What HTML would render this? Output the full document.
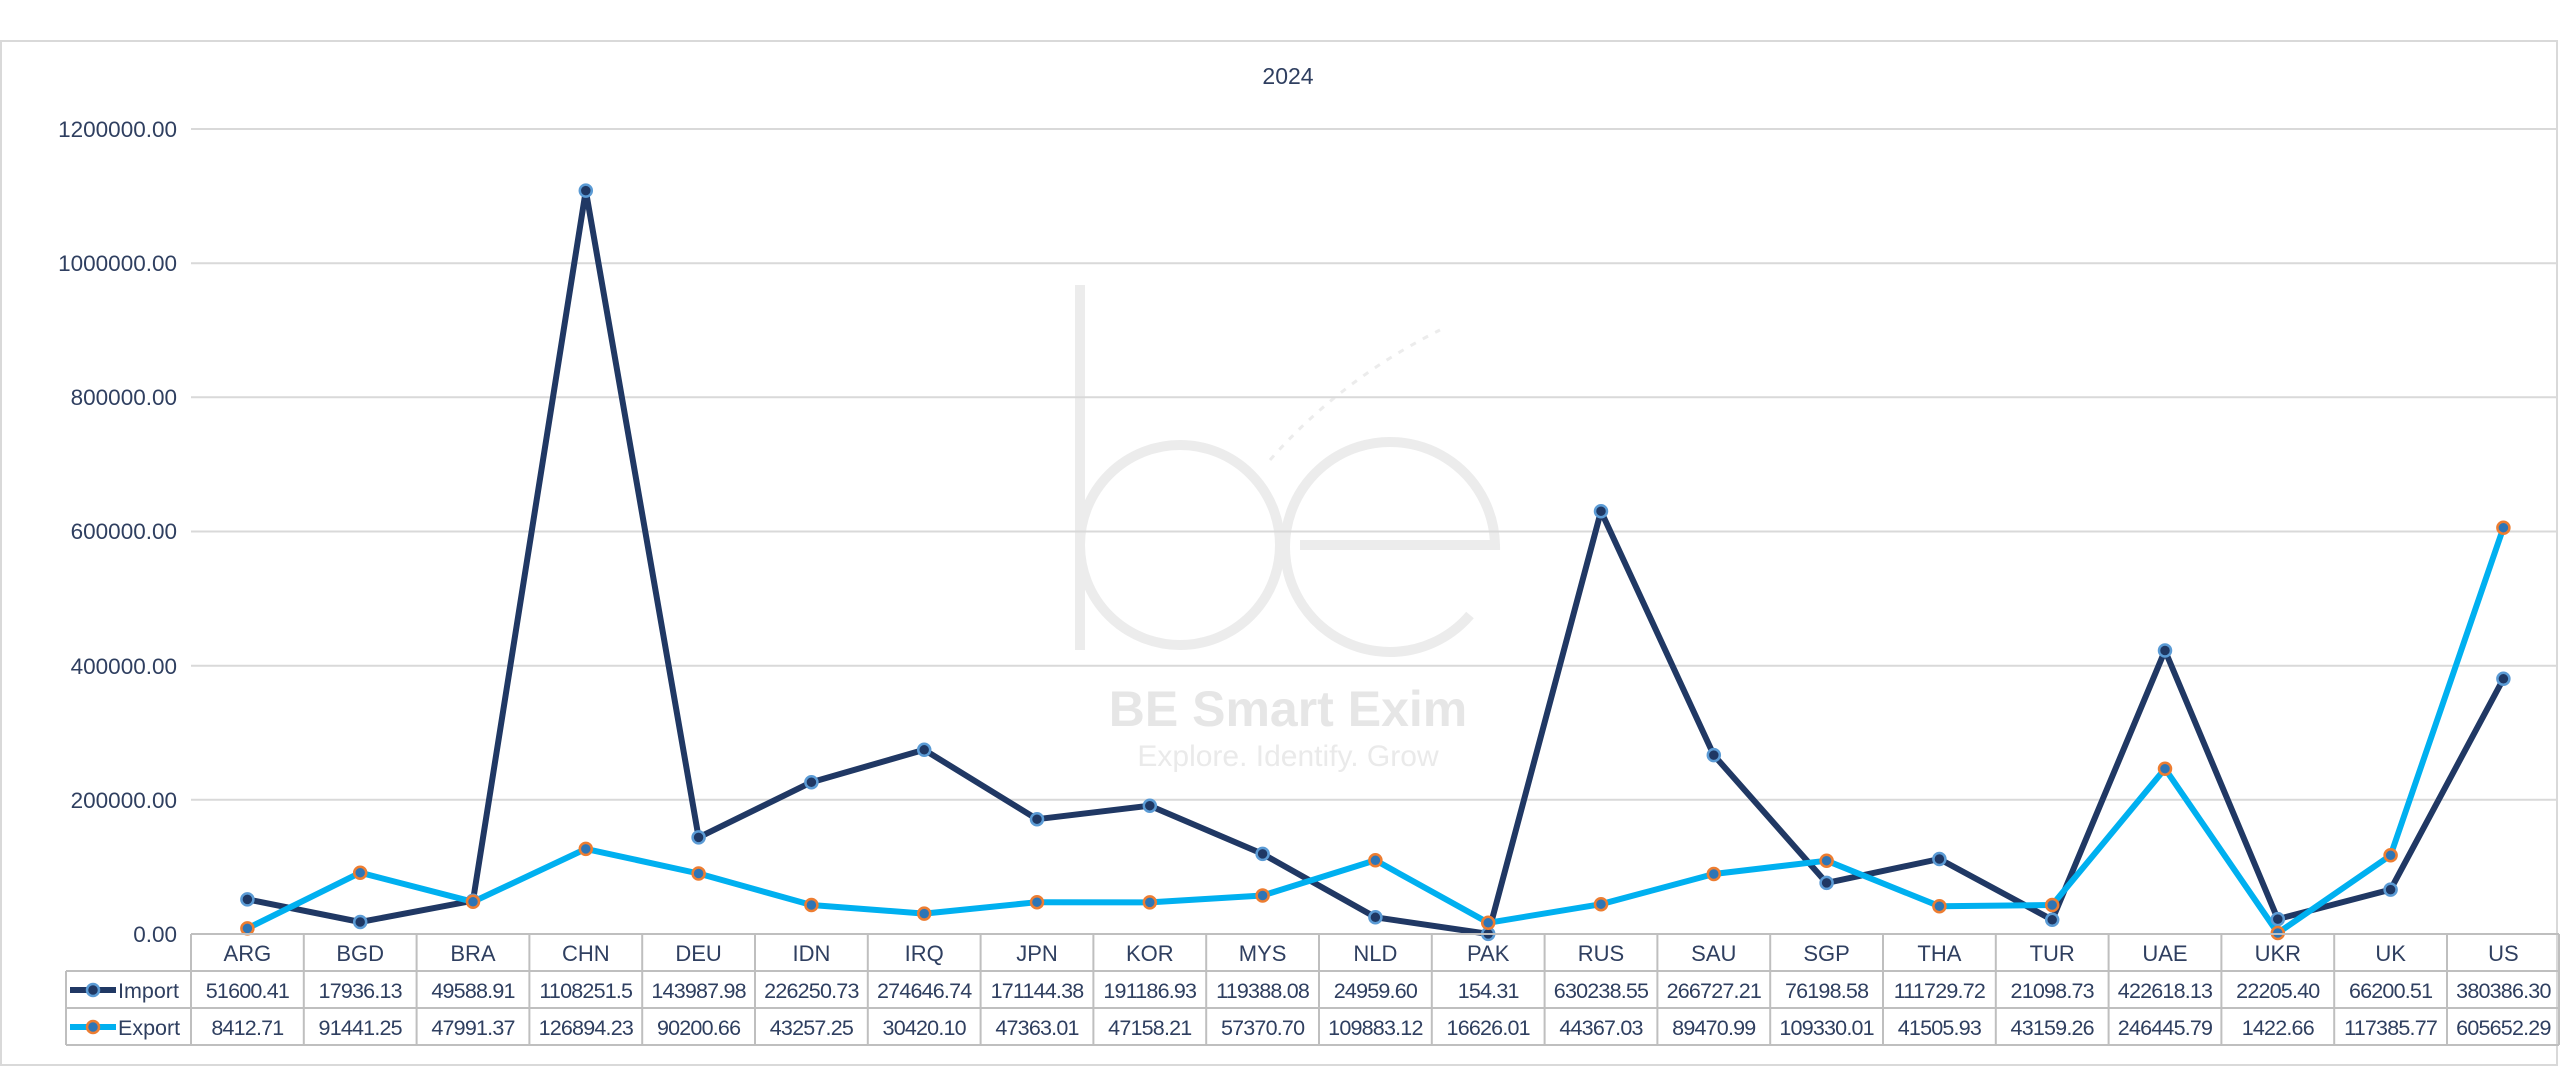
<!DOCTYPE html>
<html><head><meta charset="utf-8"><style>
html,body{margin:0;padding:0;background:#fff;width:2560px;height:1082px;overflow:hidden}
svg{display:block}
text{font-family:"Liberation Sans",sans-serif;fill:#2f3f60}
</style></head><body>
<svg width="2560" height="1082" viewBox="0 0 2560 1082" xmlns="http://www.w3.org/2000/svg">
<rect x="1" y="41" width="2556" height="1024" fill="#fff" stroke="#d9d9d9" stroke-width="2"/>
<!-- watermark -->
<g fill="none" stroke="#ececec" stroke-width="10">
<line x1="1080" y1="285" x2="1080" y2="650"/>
<circle cx="1180" cy="545" r="100"/>
<path d="M1300 545 H1495 A105 105 0 1 0 1470 615"/>
<path d="M1270 460 Q1340 380 1440 330" stroke-dasharray="6 8" stroke-width="3"/>
</g>
<text x="1288" y="726" text-anchor="middle" font-size="50" font-weight="bold" style="fill:#e6e6e6">BE Smart Exim</text>
<text x="1288" y="766" text-anchor="middle" font-size="30" style="fill:#eaeaea">Explore. Identify. Grow</text>
<!-- title -->
<text x="1288" y="84" text-anchor="middle" font-size="23">2024</text>
<!-- grid -->
<g stroke="#d9d9d9" stroke-width="2">
<line x1="191" y1="129" x2="2557" y2="129"/>
<line x1="191" y1="263.2" x2="2557" y2="263.2"/>
<line x1="191" y1="397.3" x2="2557" y2="397.3"/>
<line x1="191" y1="531.5" x2="2557" y2="531.5"/>
<line x1="191" y1="665.7" x2="2557" y2="665.7"/>
<line x1="191" y1="799.8" x2="2557" y2="799.8"/>
</g>
<g font-size="22.5" text-anchor="end">
<text x="177" y="137">1200000.00</text>
<text x="177" y="271">1000000.00</text>
<text x="177" y="405">800000.00</text>
<text x="177" y="539">600000.00</text>
<text x="177" y="674">400000.00</text>
<text x="177" y="808">200000.00</text>
<text x="177" y="942">0.00</text>
</g>
<!-- series -->
<polyline fill="none" stroke="#203864" stroke-width="6" stroke-linejoin="round" points="247.4,899.4 360.2,922 473,900.7 585.8,190.6 698.6,837.4 811.4,782.2 924.2,749.8 1037,819.2 1149.8,805.7 1262.6,853.9 1375.4,917.3 1488.2,933.9 1601,511.2 1713.8,755.1 1826.6,882.9 1939.4,859 2052.2,919.8 2165,650.5 2277.8,919.1 2390.6,889.6 2503.4,678.8"/>
<polyline fill="none" stroke="#00b0f0" stroke-width="6" stroke-linejoin="round" points="247.4,928.4 360.2,872.7 473,901.8 585.8,848.9 698.6,873.5 811.4,905 924.2,913.6 1037,902.2 1149.8,902.4 1262.6,895.5 1375.4,860.3 1488.2,922.8 1601,904.2 1713.8,874 1826.6,860.7 1939.4,906.2 2052.2,905 2165,768.7 2277.8,933 2390.6,855.3 2503.4,527.7"/>
<g fill="#1f3864" stroke="#5b9bd5" stroke-width="2.5">
<circle cx="247.4" cy="899.4" r="6"/><circle cx="360.2" cy="922" r="6"/><circle cx="473" cy="900.7" r="6"/><circle cx="585.8" cy="190.6" r="6"/><circle cx="698.6" cy="837.4" r="6"/><circle cx="811.4" cy="782.2" r="6"/><circle cx="924.2" cy="749.8" r="6"/><circle cx="1037" cy="819.2" r="6"/><circle cx="1149.8" cy="805.7" r="6"/><circle cx="1262.6" cy="853.9" r="6"/><circle cx="1375.4" cy="917.3" r="6"/><circle cx="1488.2" cy="933.9" r="6"/><circle cx="1601" cy="511.2" r="6"/><circle cx="1713.8" cy="755.1" r="6"/><circle cx="1826.6" cy="882.9" r="6"/><circle cx="1939.4" cy="859" r="6"/><circle cx="2052.2" cy="919.8" r="6"/><circle cx="2165" cy="650.5" r="6"/><circle cx="2277.8" cy="919.1" r="6"/><circle cx="2390.6" cy="889.6" r="6"/><circle cx="2503.4" cy="678.8" r="6"/>
</g>
<g fill="#2e75b6" stroke="#ed7d31" stroke-width="2.5">
<circle cx="247.4" cy="928.4" r="6"/><circle cx="360.2" cy="872.7" r="6"/><circle cx="473" cy="901.8" r="6"/><circle cx="585.8" cy="848.9" r="6"/><circle cx="698.6" cy="873.5" r="6"/><circle cx="811.4" cy="905" r="6"/><circle cx="924.2" cy="913.6" r="6"/><circle cx="1037" cy="902.2" r="6"/><circle cx="1149.8" cy="902.4" r="6"/><circle cx="1262.6" cy="895.5" r="6"/><circle cx="1375.4" cy="860.3" r="6"/><circle cx="1488.2" cy="922.8" r="6"/><circle cx="1601" cy="904.2" r="6"/><circle cx="1713.8" cy="874" r="6"/><circle cx="1826.6" cy="860.7" r="6"/><circle cx="1939.4" cy="906.2" r="6"/><circle cx="2052.2" cy="905" r="6"/><circle cx="2165" cy="768.7" r="6"/><circle cx="2277.8" cy="933" r="6"/><circle cx="2390.6" cy="855.3" r="6"/><circle cx="2503.4" cy="527.7" r="6"/>
</g>
<!-- table grid -->
<g stroke="#bfbfbf" stroke-width="2">
<line x1="191" y1="934" x2="2559" y2="934"/>
<line x1="66" y1="971" x2="2559" y2="971"/>
<line x1="66" y1="1008" x2="2559" y2="1008"/>
<line x1="66" y1="1045" x2="2559" y2="1045"/>
<line x1="66" y1="971" x2="66" y2="1045"/>
<line x1="191" y1="934" x2="191" y2="1045"/><line x1="303.8" y1="934" x2="303.8" y2="1045"/><line x1="416.6" y1="934" x2="416.6" y2="1045"/><line x1="529.4" y1="934" x2="529.4" y2="1045"/><line x1="642.2" y1="934" x2="642.2" y2="1045"/><line x1="755" y1="934" x2="755" y2="1045"/><line x1="867.8" y1="934" x2="867.8" y2="1045"/><line x1="980.6" y1="934" x2="980.6" y2="1045"/><line x1="1093.4" y1="934" x2="1093.4" y2="1045"/><line x1="1206.2" y1="934" x2="1206.2" y2="1045"/><line x1="1319" y1="934" x2="1319" y2="1045"/><line x1="1431.8" y1="934" x2="1431.8" y2="1045"/><line x1="1544.6" y1="934" x2="1544.6" y2="1045"/><line x1="1657.4" y1="934" x2="1657.4" y2="1045"/><line x1="1770.2" y1="934" x2="1770.2" y2="1045"/><line x1="1883" y1="934" x2="1883" y2="1045"/><line x1="1995.8" y1="934" x2="1995.8" y2="1045"/><line x1="2108.6" y1="934" x2="2108.6" y2="1045"/><line x1="2221.4" y1="934" x2="2221.4" y2="1045"/><line x1="2334.2" y1="934" x2="2334.2" y2="1045"/><line x1="2447" y1="934" x2="2447" y2="1045"/><line x1="2559" y1="934" x2="2559" y2="1045"/>
</g>
<!-- legend keys -->
<line x1="70" y1="990" x2="116" y2="990" stroke="#203864" stroke-width="6"/>
<circle cx="93" cy="990" r="6" fill="#1f3864" stroke="#5b9bd5" stroke-width="2.5"/>
<line x1="70" y1="1027" x2="116" y2="1027" stroke="#00b0f0" stroke-width="6"/>
<circle cx="93" cy="1027" r="6" fill="#2e75b6" stroke="#ed7d31" stroke-width="2.5"/>
<g font-size="21.5">
<text x="118" y="998">Import</text>
<text x="118" y="1035">Export</text>
</g>
<g font-size="22" text-anchor="middle">
<text x="247.4" y="961">ARG</text><text x="360.2" y="961">BGD</text><text x="473" y="961">BRA</text><text x="585.8" y="961">CHN</text><text x="698.6" y="961">DEU</text><text x="811.4" y="961">IDN</text><text x="924.2" y="961">IRQ</text><text x="1037" y="961">JPN</text><text x="1149.8" y="961">KOR</text><text x="1262.6" y="961">MYS</text><text x="1375.4" y="961">NLD</text><text x="1488.2" y="961">PAK</text><text x="1601" y="961">RUS</text><text x="1713.8" y="961">SAU</text><text x="1826.6" y="961">SGP</text><text x="1939.4" y="961">THA</text><text x="2052.2" y="961">TUR</text><text x="2165" y="961">UAE</text><text x="2277.8" y="961">UKR</text><text x="2390.6" y="961">UK</text><text x="2503.4" y="961">US</text>
</g>
<g font-size="21.5" text-anchor="middle" letter-spacing="-0.8">
<text x="247.4" y="998">51600.41</text><text x="360.2" y="998">17936.13</text><text x="473" y="998">49588.91</text><text x="585.8" y="998">1108251.5</text><text x="698.6" y="998">143987.98</text><text x="811.4" y="998">226250.73</text><text x="924.2" y="998">274646.74</text><text x="1037" y="998">171144.38</text><text x="1149.8" y="998">191186.93</text><text x="1262.6" y="998">119388.08</text><text x="1375.4" y="998">24959.60</text><text x="1488.2" y="998">154.31</text><text x="1601" y="998">630238.55</text><text x="1713.8" y="998">266727.21</text><text x="1826.6" y="998">76198.58</text><text x="1939.4" y="998">111729.72</text><text x="2052.2" y="998">21098.73</text><text x="2165" y="998">422618.13</text><text x="2277.8" y="998">22205.40</text><text x="2390.6" y="998">66200.51</text><text x="2503.4" y="998">380386.30</text>
<text x="247.4" y="1035">8412.71</text><text x="360.2" y="1035">91441.25</text><text x="473" y="1035">47991.37</text><text x="585.8" y="1035">126894.23</text><text x="698.6" y="1035">90200.66</text><text x="811.4" y="1035">43257.25</text><text x="924.2" y="1035">30420.10</text><text x="1037" y="1035">47363.01</text><text x="1149.8" y="1035">47158.21</text><text x="1262.6" y="1035">57370.70</text><text x="1375.4" y="1035">109883.12</text><text x="1488.2" y="1035">16626.01</text><text x="1601" y="1035">44367.03</text><text x="1713.8" y="1035">89470.99</text><text x="1826.6" y="1035">109330.01</text><text x="1939.4" y="1035">41505.93</text><text x="2052.2" y="1035">43159.26</text><text x="2165" y="1035">246445.79</text><text x="2277.8" y="1035">1422.66</text><text x="2390.6" y="1035">117385.77</text><text x="2503.4" y="1035">605652.29</text>
</g>
</svg>
</body></html>
